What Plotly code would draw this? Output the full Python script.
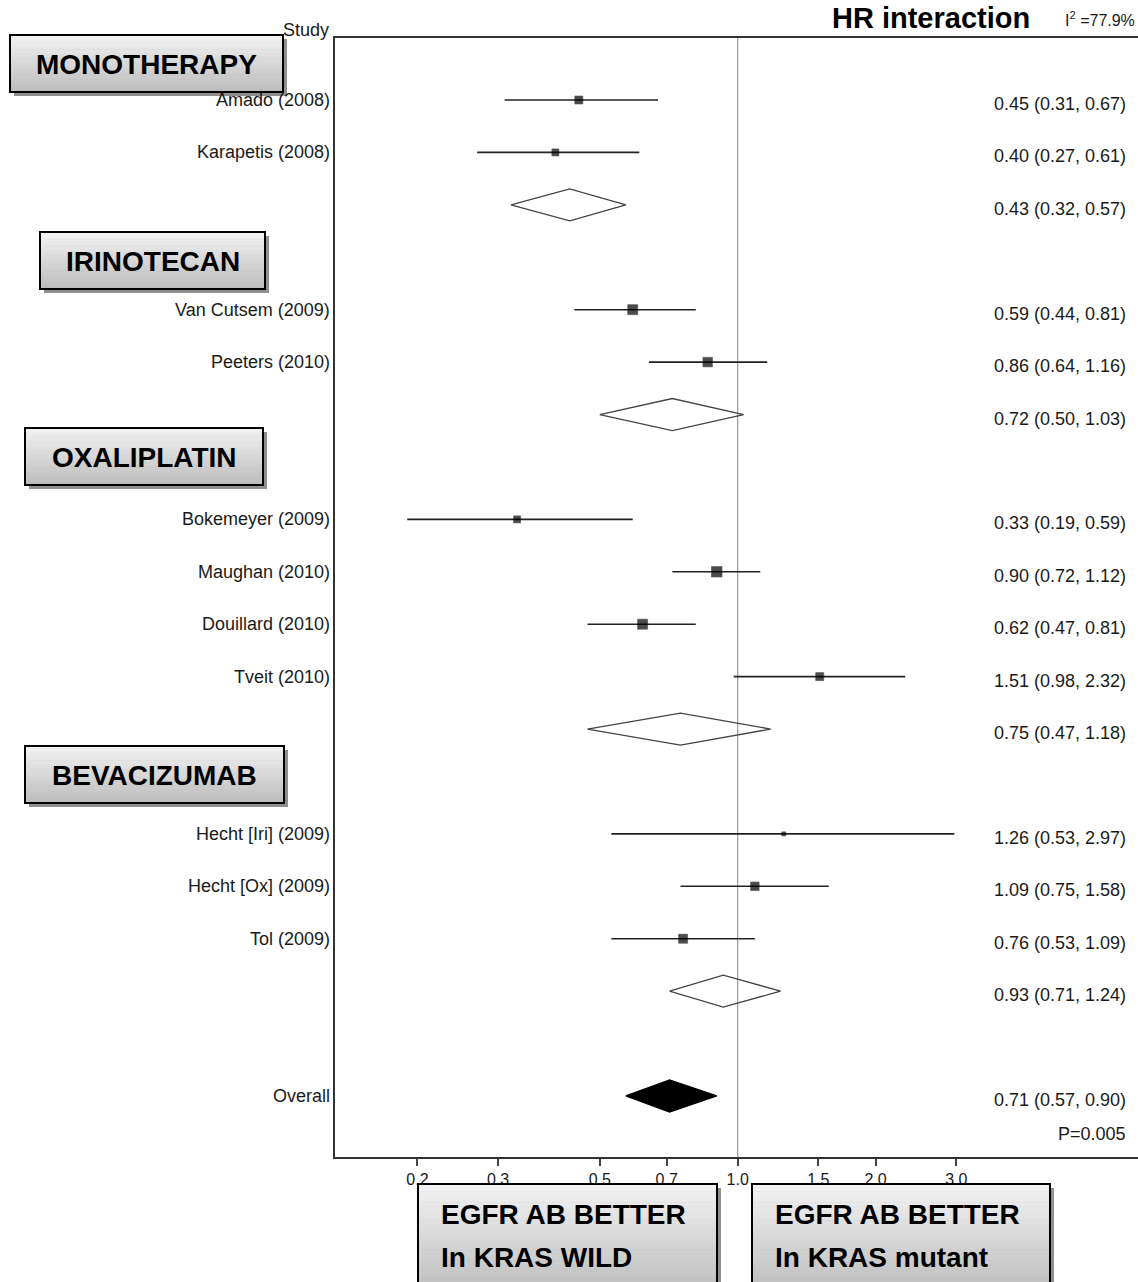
import plotly.graph_objects as go

# ---------------------------------------------------------------- data
groups = ["MONOTHERAPY", "IRINOTECAN", "OXALIPLATIN", "BEVACIZUMAB"]
group_studies = [
    ["Amado (2008)", "Karapetis (2008)"],
    ["Van Cutsem (2009)", "Peeters (2010)"],
    ["Bokemeyer (2009)", "Maughan (2010)", "Douillard (2010)", "Tveit (2010)"],
    ["Hecht [Iri] (2009)", "Hecht [Ox] (2009)", "Tol (2009)"],
]
study_hr = [0.45, 0.40, 0.59, 0.86, 0.33, 0.90, 0.62, 1.51, 1.26, 1.09, 0.76]
study_lo = [0.31, 0.27, 0.44, 0.64, 0.19, 0.72, 0.47, 0.98, 0.53, 0.75, 0.53]
study_hi = [0.67, 0.61, 0.81, 1.16, 0.59, 1.12, 0.81, 2.32, 2.97, 1.58, 1.09]

pooled_hr = [0.43, 0.72, 0.75, 0.93]
pooled_lo = [0.32, 0.50, 0.47, 0.71]
pooled_hi = [0.57, 1.03, 1.18, 1.24]

overall_label = "Overall"
overall_hr = 0.71
overall_lo = 0.57
overall_hi = 0.90
p_text = "P=0.005"
i2_text = "77.9%"

tick_vals = [0.2, 0.3, 0.5, 0.7, 1.0, 1.5, 2.0, 3.0]
tick_text = ["0.2", "0.3", "0.5", "0.7", "1.0", "1.5", "2.0", "3.0"]

# ---------------------------------------------------------------- styling
W, H = 1138, 1282
FONT = "Arial, Liberation Sans, sans-serif"
TXT = "#1a1a1a"
square_px = [8, 7, 10, 9.5, 7, 10.5, 10, 8, 4, 8.5, 9]   # study weight squares

ROW0_PX, ROW_PX = 100, 52.42          # first row centre and row pitch (px)
PLOT_L, PLOT_T, PLOT_B = 335, 38, 1157
DIAMOND_H = 16 / ROW_PX               # half height of pooled diamonds (rows)


def fx(px):
    return px / W


def fy(py):
    return 1 - py / H


# row layout: studies, pooled estimate, blank line for each group, then overall
rows_study, rows_pooled = [], []
r = 0
for studs in group_studies:
    for _ in studs:
        rows_study.append(r)
        r += 1
    rows_pooled.append(r)
    r += 2
row_overall = r
studies = [s for g in group_studies for s in g]

fig = go.Figure()

# confidence interval whiskers
xs, ys = [], []
for lo, hi, row in zip(study_lo, study_hi, rows_study):
    xs += [lo, hi, None]
    ys += [row, row, None]
fig.add_trace(go.Scatter(x=xs, y=ys, mode="lines",
                         line=dict(color="#222222", width=1.6),
                         hoverinfo="skip", showlegend=False))

# point estimates
fig.add_trace(go.Scatter(x=study_hr, y=rows_study, mode="markers",
                         marker=dict(symbol="square", size=square_px, color="black",
                                     line=dict(width=0.6, color="black")),
                         showlegend=False))


def diamond(est, lo, hi, row, filled):
    fig.add_trace(go.Scatter(
        x=[lo, est, hi, est, lo],
        y=[row, row - DIAMOND_H, row, row + DIAMOND_H, row],
        mode="lines", fill="toself",
        fillcolor="black" if filled else "rgba(255,255,255,0)",
        line=dict(color="black" if filled else "#444444", width=1.3),
        hoverinfo="skip", showlegend=False))


for est, lo, hi, row in zip(pooled_hr, pooled_lo, pooled_hi, rows_pooled):
    diamond(est, lo, hi, row, False)
diamond(overall_hr, overall_lo, overall_hi, row_overall, True)

ann = []
# study names on the left
for name, row in zip(studies + [overall_label], rows_study + [row_overall]):
    ann.append(dict(x=fx(332), xref="paper", y=row, yref="y", text=name,
                    xanchor="right", yanchor="middle", showarrow=False,
                    font=dict(size=18, color=TXT, family=FONT)))

# HR (95% CI) column on the right
all_hr = study_hr + pooled_hr + [overall_hr]
all_lo = study_lo + pooled_lo + [overall_lo]
all_hi = study_hi + pooled_hi + [overall_hi]
all_rows = rows_study + rows_pooled + [row_overall]
for hr, lo, hi, row in zip(all_hr, all_lo, all_hi, all_rows):
    ann.append(dict(x=fx(1128), xref="paper", y=row, yref="y", yshift=-4,
                    text=f"{hr:.2f} ({lo:.2f}, {hi:.2f})",
                    xanchor="right", yanchor="middle", showarrow=False,
                    font=dict(size=18, color=TXT, family=FONT)))
ann.append(dict(x=fx(1128), xref="paper", y=row_overall + 0.72, yref="y",
                text=p_text, xanchor="right", yanchor="middle", showarrow=False,
                font=dict(size=18, color=TXT, family=FONT)))

# headers
ann.append(dict(x=fx(331), xref="paper", y=fy(30), yref="paper", text="Study",
                xanchor="right", yanchor="middle", showarrow=False,
                font=dict(size=18, color=TXT, family=FONT)))
ann.append(dict(x=fx(931), xref="paper", y=fy(18), yref="paper",
                text="<b>HR interaction</b>", xanchor="center", yanchor="middle",
                showarrow=False, font=dict(size=29, color="black", family=FONT)))
ann.append(dict(x=fx(1137), xref="paper", y=fy(19), yref="paper",
                text=f"I<sup>2</sup> ={i2_text}", xanchor="right", yanchor="middle",
                showarrow=False, font=dict(size=16, color=TXT, family=FONT)))

shapes = []


def gradient_box(x0, y0, x1, y1, top="#f2f2f2", bottom="#bdbdbd", n=32):
    # drop shadow
    shapes.append(dict(type="rect", xref="paper", yref="paper",
                       x0=fx(x0 + 4), x1=fx(x1 + 4), y0=fy(y0 + 4), y1=fy(y1 + 4),
                       fillcolor="#8f8f8f", line=dict(width=0), layer="above"))
    c0 = [int(top[i:i + 2], 16) for i in (1, 3, 5)]
    c1 = [int(bottom[i:i + 2], 16) for i in (1, 3, 5)]
    step = (y1 - y0) / n
    for i in range(n):
        t = i / (n - 1)
        col = "rgb({},{},{})".format(*[round(a + (b - a) * t) for a, b in zip(c0, c1)])
        shapes.append(dict(type="rect", xref="paper", yref="paper",
                           x0=fx(x0), x1=fx(x1),
                           y0=fy(y0 + i * step), y1=fy(min(y1, y0 + (i + 1) * step + 0.6)),
                           fillcolor=col, line=dict(width=0), layer="above"))
    shapes.append(dict(type="rect", xref="paper", yref="paper",
                       x0=fx(x0), x1=fx(x1), y0=fy(y0), y1=fy(y1),
                       fillcolor="rgba(0,0,0,0)", line=dict(color="black", width=2),
                       layer="above"))


# treatment group banners
banner_px = [(10, 35, 283, 92), (40, 232, 265, 289),
             (25, 428, 263, 485), (25, 746, 284, 803)]
for name, (x0, y0, x1, y1) in zip(groups, banner_px):
    gradient_box(x0, y0, x1, y1)
    ann.append(dict(x=fx((x0 + x1) / 2), xref="paper", y=fy((y0 + y1) / 2 + 1),
                    yref="paper", text=f"<b>{name}</b>", xanchor="center",
                    yanchor="middle", showarrow=False,
                    font=dict(size=28, color="black", family=FONT)))

# direction captions under the axis
caption_boxes = [(418, 1184, 717, 1300), (752, 1184, 1050, 1300)]
caption_lines = [["EGFR AB BETTER", "In KRAS WILD"],
                 ["EGFR AB BETTER", "In KRAS mutant"]]
for (x0, y0, x1, y1), lines in zip(caption_boxes, caption_lines):
    gradient_box(x0, y0, x1, y1, top="#f2f2f2", bottom="#bababa")
    for k, line in enumerate(lines):
        ann.append(dict(x=fx(x0 + 21), xref="paper", y=fy(1214 + 43 * k),
                        yref="paper", text=f"<b>{line}</b>", xanchor="left",
                        yanchor="middle", showarrow=False,
                        font=dict(size=28, color="black", family=FONT)))

# line of no effect
shapes.append(dict(type="line", xref="x", yref="y domain", x0=1, x1=1, y0=0, y1=1,
                   line=dict(color="#999999", width=1.2), layer="below"))

fig.update_layout(
    width=W, height=H,
    margin=dict(l=0, r=0, t=0, b=0),
    paper_bgcolor="white", plot_bgcolor="white",
    showlegend=False,
    annotations=ann, shapes=shapes,
    xaxis=dict(type="log", domain=[fx(PLOT_L), 1],
               range=[-0.8789, 0.8736],
               tickvals=tick_vals, ticktext=tick_text,
               ticks="outside", ticklen=7, tickwidth=1.5, tickcolor="#444",
               tickfont=dict(size=16, color=TXT, family=FONT),
               showline=True, linecolor="#333", linewidth=1.6, mirror=True,
               showgrid=False, zeroline=False, automargin=False),
    yaxis=dict(domain=[fy(PLOT_B), fy(PLOT_T)],
               range=[(PLOT_B - ROW0_PX) / ROW_PX, (PLOT_T - ROW0_PX) / ROW_PX],
               showticklabels=False, ticks="", showgrid=False, zeroline=False,
               showline=True, linecolor="#333", linewidth=1.6, mirror=False,
               automargin=False),
)

fig.write_html("out.html")
